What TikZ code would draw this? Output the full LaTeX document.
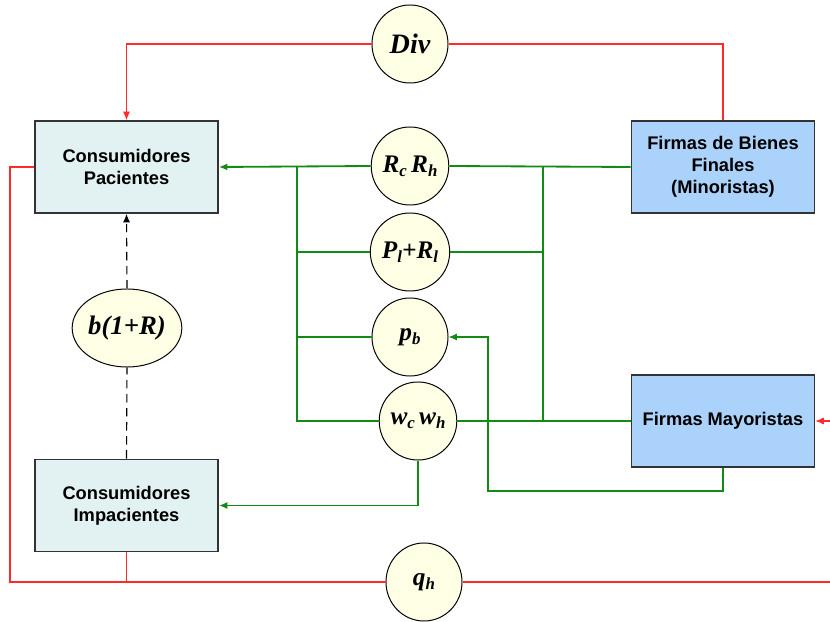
\documentclass[tikz,border=0pt]{standalone}
\usepackage{fontspec}
\setmainfont{Liberation Sans}
\newfontfamily\varfont{Liberation Serif}
\usetikzlibrary{positioning, arrows.meta, calc, shapes.geometric}
\definecolor{flowred}{HTML}{FF2A2A}
\definecolor{flowgreen}{HTML}{138A13}
\definecolor{hogar}{HTML}{E2F1F1}
\definecolor{firma}{HTML}{AAD2FA}
\definecolor{precio}{HTML}{FFFFE6}
\definecolor{borde}{HTML}{333333}
\newcommand{\vsub}[1]{\raisebox{-0.35ex}{\fontsize{12}{12}\selectfont #1}}

\begin{document}
\begin{tikzpicture}[x=0.025cm, y=-0.025cm,
        every node/.style={font=\fontsize{13}{15.6}\selectfont\bfseries},
        box/.style={rectangle, draw=borde, line width=1.2pt,
          minimum width=4.575cm, minimum height=2.3cm, align=center},
        var/.style={ellipse, draw=black, fill=precio, line width=0.7pt,
          minimum width=1.9cm, minimum height=1.95cm, inner sep=0pt,
          font=\varfont\fontsize{18}{18}\selectfont\bfseries\itshape},
        rflow/.style={draw=flowred, line width=0.75pt},
        gflow/.style={draw=flowgreen, line width=0.85pt},
        gthick/.style={draw=flowgreen, line width=1.3pt},
        tip/.style={-{Latex[length=6pt, width=5pt]}},
        link/.style={dash pattern=on 6pt off 4pt, line width=0.8pt}]

      \useasboundingbox (0,0) rectangle (830,622);

      \node[box, fill=hogar] (pac) at (126.5,167) {Consumidores\\Pacientes};
      \node[box, fill=hogar] (imp) at (126.5,505.5) {Consumidores\\Impacientes};
      \node[box, fill=firma] (fbf) at (723,167)
        {Firmas de Bienes\\Finales\\(Minoristas)};
      \node[box, fill=firma] (fmay) at (723,421) {Firmas Mayoristas};

      \node[var, font=\varfont\fontsize{20}{20}\selectfont\bfseries\itshape]
        (div) at (410,44) {Div};
      \node[var] (rcrh) at (410,166) {R\vsub{c}\,R\vsub{h}};
      \node[var] (plrl) at (410,252) {P\vsub{l}+R\vsub{l}};
      \node[var] (pb) at (410,337) {p\vsub{b}};
      \node[var] (wcwh) at (418,421) {w\vsub{c}\,w\vsub{h}};
      \node[var] (qh) at (424,582) {q\vsub{h}};
      \node[var, minimum width=2.33cm,
        font=\varfont\fontsize{19}{19}\selectfont\bfseries\itshape]
        (bR) at (127,328) {b(1+R)};

      \coordinate (lbus) at (297,166);
      \coordinate (rbus) at (543,166);
      \coordinate (redl) at (10,167);
      \coordinate (redr) at (830,582);
      \coordinate (mayin) at (830,421);
      \coordinate (mayturn) at (488,491);

      \draw[rflow, tip] (div.west) -| (pac.north);
      \draw[rflow] (div.east) -| (fbf.north);
      \draw[rflow] (pac.west) -- (redl) |- (qh.west);
      \draw[rflow] (imp.south) -- (imp.south |- qh.west);
      \draw[rflow] (qh.east) -- (redr);
      \draw[rflow, tip] (mayin) -- (fmay.east);

      \draw[gthick] (fbf.west) -- (rcrh.east);
      \draw[gthick, tip] (rcrh.west) -- (pac.east);
      \draw[gthick] (lbus) -- (lbus |- plrl.west) -- (plrl.west);
      \draw[gflow] (lbus |- plrl.west) |- (pb.west);
      \draw[gflow] (lbus |- pb.west) |- (wcwh.west);
      \draw[gthick] (rbus) -- (rbus |- plrl.east) -- (plrl.east);
      \draw[gflow] (rbus |- plrl.east) -- (rbus |- wcwh.east);
      \draw[gthick] (wcwh.east) -- (fmay.west);
      \draw[gflow, tip] (fmay.south) |- (mayturn) |- (pb.east);
      \draw[gthick, tip] (wcwh.south) |- (imp.east);

      \draw[link, tip] (bR.north) -- (pac.south);
      \draw[link] (imp.north) -- (bR.south);
    \end{tikzpicture}
\end{document}
